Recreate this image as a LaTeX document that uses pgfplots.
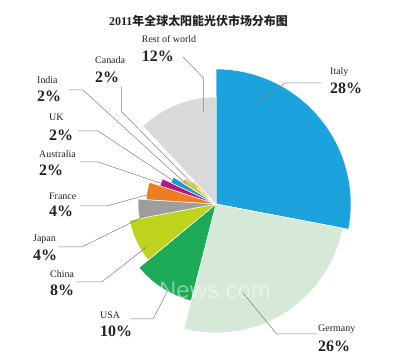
\documentclass[border=0pt]{standalone}
\usepackage{fontspec}
\setmainfont{Liberation Serif}
\newfontfamily\cjk{Noto Sans CJK SC}
\newfontfamily\wmfont{Liberation Sans}
\usepackage{pgfplots}
\pgfplotsset{compat=1.18}
\usepackage{pgfplotstable}

\definecolor{cItaly}{HTML}{1CA2DC}
\definecolor{cGermany}{HTML}{D6E9D8}
\definecolor{cUSA}{HTML}{1DAA57}
\definecolor{cChina}{HTML}{BFD31C}
\definecolor{cJapan}{HTML}{9D9D9D}
\definecolor{cFrance}{HTML}{EE7D22}
\definecolor{cAustralia}{HTML}{B4177F}
\definecolor{cUK}{HTML}{1E98D4}
\definecolor{cIndia}{HTML}{D9C633}
\definecolor{cCanada}{HTML}{EDDC78}
\definecolor{cRest}{HTML}{D9D9DB}
\definecolor{txt}{HTML}{222222}
\definecolor{lead}{HTML}{7F7F7F}

% share (%), drawn radius (px), colour
\pgfplotstableread{
name share radius col
Italy 28 135 cItaly
Germany 26 129 cGermany
USA 10 100 cUSA
China 8 88 cChina
Japan 4 78 cJapan
France 4 70 cFrance
Australia 2 59 cAustralia
UK 2 50 cUK
India 2 40 cIndia
Canada 2 32 cCanada
Rest 12 107 cRest
}\piedata

\pgfplotstablegetrowsof{\piedata}
\pgfmathtruncatemacro\Nrows{\pgfplotsretval-1}
\gdef\cumangle{90}
\foreach \i in {0,...,\Nrows}{%
  \pgfplotstablegetelem{\i}{share}\of\piedata
  \pgfmathsetmacro\endang{\cumangle-3.6*\pgfplotsretval}%
  \expandafter\xdef\csname sa\i\endcsname{\cumangle}%
  \expandafter\xdef\csname ea\i\endcsname{\endang}%
  \pgfplotstablegetelem{\i}{radius}\of\piedata
  \expandafter\xdef\csname rr\i\endcsname{\pgfplotsretval}%
  \pgfplotstablegetelem{\i}{col}\of\piedata
  \expandafter\xdef\csname cc\i\endcsname{\pgfplotsretval}%
  \xdef\cumangle{\endang}%
}

\newcommand{\lab}[5]{% x, y name, y pct, name, pct
  \node[anchor=west, inner sep=0pt, text=txt, font=\fontsize{10}{12}\selectfont] at (axis cs:#1,#2) {#4};
  \node[anchor=west, inner sep=0pt, text=txt, font=\fontsize{16}{18}\selectfont\bfseries] at (axis cs:#1,#3) {#5};
}

\begin{document}
\begin{tikzpicture}
\begin{axis}[x=1bp, y=1bp, xmin=0, xmax=400, ymin=0, ymax=356,
  hide axis, clip=false]
\path (axis cs:0,0) rectangle (axis cs:400,356);

\pgfplotsinvokeforeach{0,...,10}{
  \fill[fill=\csname cc#1\endcsname, draw=white, line width=0.5bp]
    (axis cs:216,152) -- ++(\csname sa#1\endcsname:\csname rr#1\endcsname bp)
    arc[start angle=\csname sa#1\endcsname, end angle=\csname ea#1\endcsname, radius=\csname rr#1\endcsname bp] -- cycle;
}

\node[text=white, opacity=0.45, font=\wmfont\fontsize{24}{26}\selectfont] at (axis cs:215,66) {News.com};

% leader lines
\draw[lead, line width=0.5bp] (axis cs:183,299) -- (axis cs:203.5,278) -- (axis cs:203.5,244);
\draw[lead, line width=0.5bp] (axis cs:121.7,269.3) -- (axis cs:121.7,244.3) -- (axis cs:196.7,167.7);
\draw[lead, line width=0.5bp] (axis cs:68,266) -- (axis cs:83,266) -- (axis cs:185,173);
\draw[lead, line width=0.5bp] (axis cs:78,225) -- (axis cs:98,225) -- (axis cs:172,176);
\draw[lead, line width=0.5bp] (axis cs:80,194) -- (axis cs:98,194) -- (axis cs:160,173);
\draw[lead, line width=0.5bp] (axis cs:80,150) -- (axis cs:106.7,150) -- (axis cs:146.7,161);
\draw[lead, line width=0.5bp] (axis cs:59,109) -- (axis cs:81.7,109) -- (axis cs:146.7,141);
\draw[lead, line width=0.5bp] (axis cs:76.7,74) -- (axis cs:101.7,74) -- (axis cs:146.7,109);
\draw[lead, line width=0.5bp] (axis cs:130,37) -- (axis cs:153,37) -- (axis cs:168,66);
\draw[lead, line width=0.5bp] (axis cs:316.7,22) -- (axis cs:276.7,22) -- (axis cs:243,63);
\draw[lead, line width=0.5bp] (axis cs:321.7,273) -- (axis cs:285,273) -- (axis cs:255,251);

% labels
\lab{141.7}{317}{300}{Rest of world}{12\%}
\lab{95}{296}{279}{Canada}{2\%}
\lab{37}{276}{260}{India}{2\%}
\lab{49}{239}{221}{UK}{2\%}
\lab{39}{202}{186}{Australia}{2\%}
\lab{49}{160}{145}{France}{4\%}
\lab{33}{117}{101}{Japan}{4\%}
\lab{50}{82}{66}{China}{8\%}
\lab{100}{41}{25}{USA}{10\%}
\lab{330}{284}{268}{Italy}{28\%}
\lab{318}{27}{10}{Germany}{26\%}

\node[text=txt, inner sep=0pt, font=\fontsize{12}{14}\selectfont] at (axis cs:198.5,335.3)
  {\textbf{2011}{\cjk\bfseries 年全球太阳能光伏市场分布图}};
\end{axis}
\end{tikzpicture}
\end{document}
